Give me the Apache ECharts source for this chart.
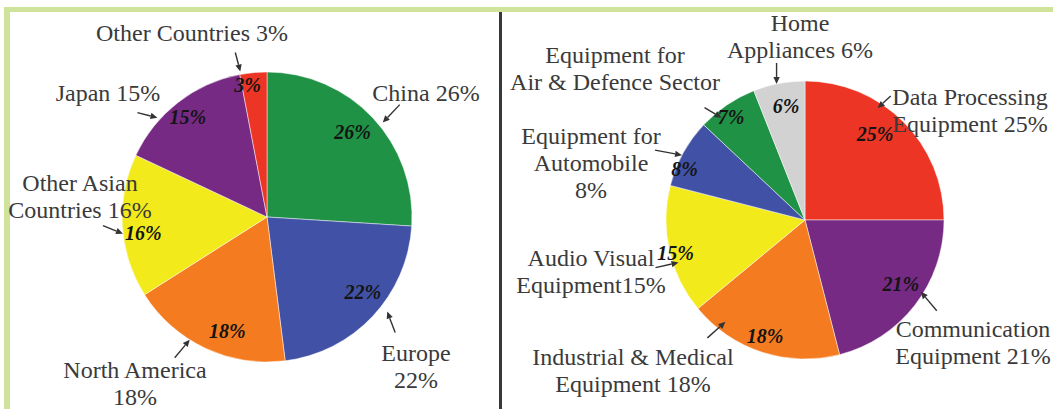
<!DOCTYPE html>
<html>
<head>
<meta charset="utf-8">
<script src="https://cdn.jsdelivr.net/npm/echarts@6/dist/echarts.min.js"></script>
<style>
html,body{margin:0;padding:0;background:#fff;}
#chart{width:1053px;height:409px;}
</style>
</head>
<body>
<div id="chart"></div>
<script>
// ---------- data ----------
const leftCategories = ['China', 'Europe', 'North America', 'Other Asian Countries', 'Japan', 'Other Countries'];
const leftValues = [26, 22, 18, 16, 15, 3];
const leftOuterLabels = ['China 26%', 'Europe\n22%', 'North America\n18%', 'Other Asian\nCountries 16%', 'Japan 15%', 'Other Countries 3%'];

const rightCategories = ['Data Processing Equipment', 'Communication Equipment', 'Industrial & Medical Equipment',
  'Audio Visual Equipment', 'Equipment for Automobile', 'Equipment for Air & Defence Sector', 'Home Appliances'];
const rightValues = [25, 21, 18, 15, 8, 7, 6];
const rightOuterLabels = ['Data Processing\nEquipment 25%', 'Communication\nEquipment 21%', 'Industrial & Medical\nEquipment 18%',
  'Audio Visual\nEquipment15%', 'Equipment for\nAutomobile\n8%', 'Equipment for\nAir & Defence Sector', 'Home\nAppliances 6%'];

// ---------- styles ----------
const leftColors = ['#1f9245', '#4152a6', '#f47b20', '#f3ea1c', '#772a84', '#ec3524'];
const rightColors = ['#ec3524', '#772a84', '#f47b20', '#f3ea1c', '#4152a6', '#1f9245', '#d2d2d2'];

// ---------- layout (annotation placement) ----------
const leftPie = { cx: 267, cy: 217, r: 145 };
const rightPie = { cx: 805, cy: 220, r: 139 };
// inner value label: [radius factor, angle offset deg]
const leftInner = [[0.83, -1.5], [0.84, -5], [0.83, -6], [0.86, -4], [0.88, -0.5], [0.92, -3]];
const rightInner = [[0.80, -6], [0.83, -4], [0.88, 1], [0.96, -1.6], [0.94, -6], [0.91, -1.5], [0.83, 1.3]];
// outer label block centres
const leftOuterPos = [[426, 93], [416, 366], [135, 383], [80, 196], [108, 93], [192, 33]];
const rightOuterPos = [[970, 110], [973, 342], [633, 370], [591, 271], [591, 163], [615, 68], [800, 36]];
// arrows: [angle offset deg, radius factor of tip, tail dx, tail dy]
const leftArrows = [[4, 1.03, 17, -18], [-5, 1.055, 8, 21], [7, 1.0, -15, 18], [-3, 1.0, -20, -8], [-10, 1.02, -20, -5], [-5, 1.02, -5, -19]];
const rightArrows = [[-12, 0.96, 13, -12], [-6, 0.98, 16, 19], [20, 0.93, -18, 16], [-6, 0.96, -23, 5], [-1, 1.0, -27, -5], [-5, 0.95, -17, -10], [-1, 1.0, 0, -21]];

const SERIF = 'Liberation Serif';

function midAngle(values, i) {
  const total = values.reduce((a, b) => a + b, 0);
  let before = 0;
  for (let k = 0; k < i; k++) before += values[k];
  return (before + values[i] / 2) / total * 360;
}
function polar(pie, angDeg, factor) {
  const a = angDeg * Math.PI / 180;
  return [pie.cx + factor * pie.r * Math.sin(a), pie.cy - factor * pie.r * Math.cos(a)];
}

function makeSeries(pie, cats, values, colors, outerLabels, innerLayout, outerPos) {
  const common = {
    type: 'pie',
    center: [pie.cx, pie.cy],
    radius: [0, pie.r],
    startAngle: 90,
    clockwise: true,
    silent: true,
    animation: false,
    labelLine: { show: false },
    emphasis: { disabled: true }
  };
  // visible pie with the value labels
  const inner = Object.assign({}, common, {
    z: 2,
    data: cats.map((c, i) => ({ name: c, value: values[i], itemStyle: { color: colors[i] } })),
    itemStyle: { borderColor: 'rgba(255,255,255,0.6)', borderWidth: 0.8 },
    label: {
      show: true, position: 'inside', formatter: '{c}%',
      fontFamily: SERIF, fontStyle: 'italic', fontWeight: 'bold', fontSize: 20, color: '#141414'
    },
    labelLayout: function (p) {
      const L = innerLayout[p.dataIndex];
      const pt = polar(pie, midAngle(values, p.dataIndex) + L[1], L[0]);
      return { x: pt[0], y: pt[1], align: 'center', verticalAlign: 'middle' };
    }
  });
  // same pie, invisible sectors, carrying the category labels above everything
  const outer = Object.assign({}, common, {
    z: 4,
    data: cats.map((c, i) => ({ name: c, value: values[i] })),
    itemStyle: { color: 'rgba(0,0,0,0)', borderWidth: 0 },
    label: {
      show: true, position: 'inside',
      formatter: function (p) { return outerLabels[p.dataIndex]; },
      fontFamily: SERIF, fontSize: 24, lineHeight: 27, color: '#3a3a3a', align: 'center'
    },
    labelLayout: function (p) {
      const P = outerPos[p.dataIndex];
      return { x: P[0], y: P[1], align: 'center', verticalAlign: 'middle' };
    }
  });
  return [inner, outer];
}

function makeArrows(pie, values, arrows) {
  const els = [];
  arrows.forEach((A, i) => {
    const tip = polar(pie, midAngle(values, i) + A[0], A[1]);
    const tail = [tip[0] + A[2], tip[1] + A[3]];
    const dx = tip[0] - tail[0], dy = tip[1] - tail[1];
    const len = Math.sqrt(dx * dx + dy * dy);
    const ux = dx / len, uy = dy / len;
    const head = 7, half = 3.2;
    const base = [tip[0] - ux * head, tip[1] - uy * head];
    els.push({
      type: 'line', silent: true, z: 10,
      shape: { x1: tail[0], y1: tail[1], x2: base[0], y2: base[1] },
      style: { stroke: '#333', lineWidth: 1.4 }
    });
    els.push({
      type: 'polygon', silent: true, z: 10,
      shape: { points: [tip, [base[0] - uy * half, base[1] + ux * half], [base[0] + uy * half, base[1] - ux * half]] },
      style: { fill: '#333' }
    });
  });
  return els;
}

const chart = echarts.init(document.getElementById('chart'), null, { renderer: 'svg' });
const graphics = [
  { type: 'rect', silent: true, z: 0, shape: { x: 4, y: 7, width: 1049, height: 5 }, style: { fill: '#cfe39b' } },
  { type: 'rect', silent: true, z: 0, shape: { x: 4, y: 7, width: 6, height: 402 }, style: { fill: '#cfe39b' } },
  { type: 'rect', silent: true, z: 0, shape: { x: 499, y: 12, width: 3, height: 397 }, style: { fill: '#383838' } }
].concat(makeArrows(leftPie, leftValues, leftArrows), makeArrows(rightPie, rightValues, rightArrows));

chart.setOption({
  backgroundColor: '#ffffff',
  animation: false,
  graphic: graphics,
  series: [].concat(
    makeSeries(leftPie, leftCategories, leftValues, leftColors, leftOuterLabels, leftInner, leftOuterPos),
    makeSeries(rightPie, rightCategories, rightValues, rightColors, rightOuterLabels, rightInner, rightOuterPos)
  )
});
</script>
</body>
</html>
